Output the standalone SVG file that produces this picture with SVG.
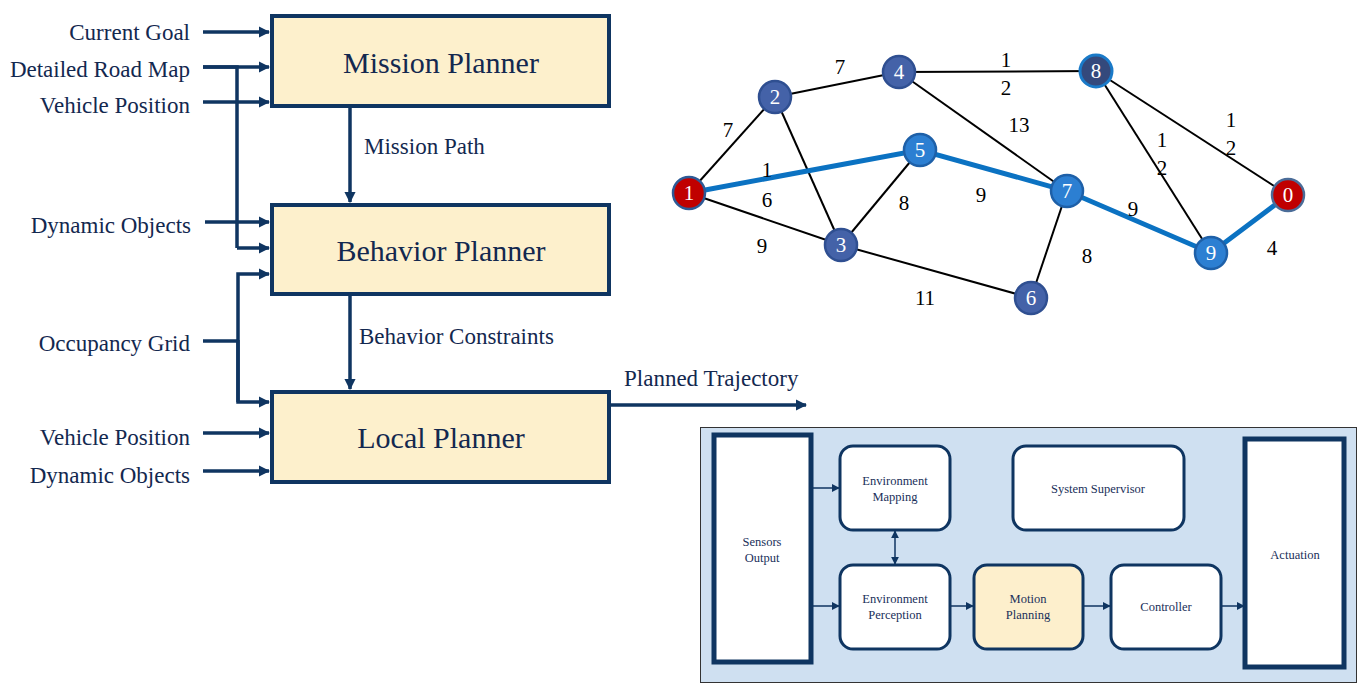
<svg xmlns="http://www.w3.org/2000/svg" width="1366" height="691" viewBox="0 0 1366 691" font-family="Liberation Serif, serif">
<defs>
<marker id="ah" viewBox="0 0 10 10" refX="9" refY="5" markerWidth="3.2" markerHeight="3.2" orient="auto-start-reverse" markerUnits="strokeWidth"><path d="M0,0 L10,5 L0,10 z" fill="#0f3561"/></marker>
<marker id="ahs" viewBox="0 0 10 10" refX="9" refY="5" markerWidth="8" markerHeight="8" orient="auto-start-reverse" markerUnits="userSpaceOnUse"><path d="M0,0 L10,5 L0,10 z" fill="#0f3561"/></marker>
<style>
.pl{fill:#fdf0cc;stroke:#0f3561;stroke-width:4}
.pt{font-size:30px;fill:#13284f;text-anchor:middle}
.lb{font-size:23px;fill:#13284f}
.r{text-anchor:end}
.ln{fill:none;stroke:#0f3561;stroke-width:3.5}
.ar{fill:none;stroke:#0f3561;stroke-width:3.5;marker-end:url(#ah)}
.ge{stroke:#000;stroke-width:2;fill:none}
.gp{stroke:#0b72c2;stroke-width:5;fill:none}
.gn{font-size:21px;fill:#fff;text-anchor:middle}
.gl{font-size:21px;fill:#000;text-anchor:middle}
.bx{fill:#fff;stroke:#0f3561;stroke-width:3}
.bt{font-size:12.5px;fill:#1a2f5a;text-anchor:middle}
.sa{fill:none;stroke:#0f3561;stroke-width:1.5;marker-end:url(#ahs)}
</style>
</defs>
<rect width="1366" height="691" fill="#fff"/>

<g id="connectors">
<path class="ar" d="M203,32 H269"/>
<path class="ar" d="M203,67 H269"/>
<path class="ar" d="M203,102 H269"/>
<path class="ln" d="M203,67 H237 V248"/>
<path class="ar" d="M237,248 H269"/>
<path class="ar" d="M205,222 H269"/>
<path class="ln" d="M203,341 H238"/>
<path class="ar" d="M238,402 V274 H269"/>
<path class="ar" d="M238,340 V402 H269"/>
<path class="ar" d="M203,433 H269"/>
<path class="ar" d="M203,471 H269"/>
<path class="ar" d="M350,107 V202"/>
<path class="ar" d="M350,295 V389"/>
<path class="ar" d="M610,405 H806"/>
</g>
<g id="mission" font-family="Liberation Serif, serif"><rect class="pl" x="272" y="16" width="337" height="90"/><text class="pt" x="441" y="73" font-family="Liberation Serif, serif">Mission Planner</text></g>
<g id="behavior" font-family="Liberation Serif, serif"><rect class="pl" x="272" y="205" width="337" height="89"/><text class="pt" x="441" y="261" font-family="Liberation Serif, serif">Behavior Planner</text></g>
<g id="local" font-family="Liberation Serif, serif"><rect class="pl" x="272" y="392" width="337" height="90"/><text class="pt" x="441" y="448" font-family="Liberation Serif, serif">Local Planner</text></g>
<g id="labels" font-family="Liberation Serif, serif">
<text class="lb r" x="190" y="40" font-family="Liberation Serif, serif">Current Goal</text>
<text class="lb r" x="190" y="77" font-family="Liberation Serif, serif">Detailed Road Map</text>
<text class="lb r" x="190" y="113" font-family="Liberation Serif, serif">Vehicle Position</text>
<text class="lb r" x="191" y="233" font-family="Liberation Serif, serif">Dynamic Objects</text>
<text class="lb r" x="190" y="351" font-family="Liberation Serif, serif">Occupancy Grid</text>
<text class="lb r" x="190" y="445" font-family="Liberation Serif, serif">Vehicle Position</text>
<text class="lb r" x="190" y="483" font-family="Liberation Serif, serif">Dynamic Objects</text>
<text class="lb" x="364" y="154" font-family="Liberation Serif, serif">Mission Path</text>
<text class="lb" x="359" y="344" font-family="Liberation Serif, serif">Behavior Constraints</text>
<text class="lb" x="624" y="386" font-family="Liberation Serif, serif">Planned Trajectory</text>
</g>

<g id="graph-edges">
<path class="ge" d="M689,193 L775,97"/>
<path class="ge" d="M775,97 L899,72"/>
<path class="ge" d="M899,72 L1096,71"/>
<path class="ge" d="M899,72 L1067,191"/>
<path class="ge" d="M1096,71 L1288,195"/>
<path class="ge" d="M1096,71 L1211,253"/>
<path class="ge" d="M775,97 L841,245"/>
<path class="ge" d="M689,193 L841,245"/>
<path class="ge" d="M841,245 L920,150"/>
<path class="ge" d="M841,245 L1031,298"/>
<path class="ge" d="M1067,191 L1031,298"/>
<path class="gp" d="M689,193 L920,150 L1067,191 L1211,253 L1288,195"/>
</g>
<g id="graph-weights" font-family="Liberation Serif, serif">
<text class="gl" font-family="Liberation Serif, serif" x="840" y="74">7</text>
<text class="gl" font-family="Liberation Serif, serif" x="728" y="137">7</text>
<text class="gl" font-family="Liberation Serif, serif" x="1006" y="67">1</text>
<text class="gl" font-family="Liberation Serif, serif" x="1006" y="95">2</text>
<text class="gl" font-family="Liberation Serif, serif" x="1019" y="132">13</text>
<text class="gl" font-family="Liberation Serif, serif" x="767" y="177">1</text>
<text class="gl" font-family="Liberation Serif, serif" x="767" y="207">6</text>
<text class="gl" font-family="Liberation Serif, serif" x="904" y="210">8</text>
<text class="gl" font-family="Liberation Serif, serif" x="981" y="202">9</text>
<text class="gl" font-family="Liberation Serif, serif" x="762" y="253">9</text>
<text class="gl" font-family="Liberation Serif, serif" x="925" y="305">11</text>
<text class="gl" font-family="Liberation Serif, serif" x="1162" y="147">1</text>
<text class="gl" font-family="Liberation Serif, serif" x="1162" y="175">2</text>
<text class="gl" font-family="Liberation Serif, serif" x="1231" y="127">1</text>
<text class="gl" font-family="Liberation Serif, serif" x="1231" y="155">2</text>
<text class="gl" font-family="Liberation Serif, serif" x="1133" y="216">9</text>
<text class="gl" font-family="Liberation Serif, serif" x="1087" y="263">8</text>
<text class="gl" font-family="Liberation Serif, serif" x="1272" y="255">4</text>
</g>
<g id="n1" font-family="Liberation Serif, serif"><circle cx="689" cy="193" r="16" fill="#c00000" stroke="#2d5a96" stroke-width="2.5"/><text class="gn" font-family="Liberation Serif, serif" x="689" y="200">1</text></g>
<g id="n2" font-family="Liberation Serif, serif"><circle cx="775" cy="97" r="16" fill="#4462a8" stroke="#2f4f91" stroke-width="2.5"/><text class="gn" font-family="Liberation Serif, serif" x="775" y="104">2</text></g>
<g id="n4" font-family="Liberation Serif, serif"><circle cx="899" cy="72" r="16" fill="#4462a8" stroke="#2f4f91" stroke-width="2.5"/><text class="gn" font-family="Liberation Serif, serif" x="899" y="79">4</text></g>
<g id="n8" font-family="Liberation Serif, serif"><circle cx="1096" cy="71" r="16" fill="#34497c" stroke="#1a7ac8" stroke-width="3"/><text class="gn" font-family="Liberation Serif, serif" x="1096" y="78">8</text></g>
<g id="n5" font-family="Liberation Serif, serif"><circle cx="920" cy="150" r="16" fill="#2c7fd2" stroke="#1e60a8" stroke-width="2.5"/><text class="gn" font-family="Liberation Serif, serif" x="920" y="157">5</text></g>
<g id="n7" font-family="Liberation Serif, serif"><circle cx="1067" cy="191" r="16" fill="#2c7fd2" stroke="#1e60a8" stroke-width="2.5"/><text class="gn" font-family="Liberation Serif, serif" x="1067" y="198">7</text></g>
<g id="n3" font-family="Liberation Serif, serif"><circle cx="841" cy="245" r="16" fill="#4462a8" stroke="#2f4f91" stroke-width="2.5"/><text class="gn" font-family="Liberation Serif, serif" x="841" y="252">3</text></g>
<g id="n6" font-family="Liberation Serif, serif"><circle cx="1031" cy="298" r="16" fill="#4462a8" stroke="#2f4f91" stroke-width="2.5"/><text class="gn" font-family="Liberation Serif, serif" x="1031" y="305">6</text></g>
<g id="n9" font-family="Liberation Serif, serif"><circle cx="1211" cy="253" r="16" fill="#2c7fd2" stroke="#1e60a8" stroke-width="2.5"/><text class="gn" font-family="Liberation Serif, serif" x="1211" y="260">9</text></g>
<g id="n0" font-family="Liberation Serif, serif"><circle cx="1288" cy="195" r="16" fill="#c00000" stroke="#4a6c98" stroke-width="2.5"/><text class="gn" font-family="Liberation Serif, serif" x="1288" y="202">0</text></g>

<g id="arch-bg"><rect x="700.5" y="427.5" width="656" height="255" fill="#cfe0f1" stroke="#333" stroke-width="1"/></g>
<g id="arch-connectors">
<path class="sa" d="M812,488 H839"/>
<path class="sa" d="M812,606 H839"/>
<path class="sa" d="M895,548 V531"/>
<path class="sa" d="M895,548 V564"/>
<path class="sa" d="M951,606 H973"/>
<path class="sa" d="M1084,606 H1110"/>
<path class="sa" d="M1222,606 H1244"/>
</g>
<g id="sensors" font-family="Liberation Serif, serif"><rect x="714" y="435" width="97" height="227" fill="#fff" stroke="#0f3561" stroke-width="5"/><text class="bt" font-family="Liberation Serif, serif" x="762" y="546">Sensors</text><text class="bt" font-family="Liberation Serif, serif" x="762" y="562">Output</text></g>
<g id="envmap" font-family="Liberation Serif, serif"><rect class="bx" x="840" y="446" width="110" height="84" rx="13"/><text class="bt" font-family="Liberation Serif, serif" x="895" y="485">Environment</text><text class="bt" font-family="Liberation Serif, serif" x="895" y="501">Mapping</text></g>
<g id="envper" font-family="Liberation Serif, serif"><rect class="bx" x="840" y="565" width="110" height="84" rx="13"/><text class="bt" font-family="Liberation Serif, serif" x="895" y="603">Environment</text><text class="bt" font-family="Liberation Serif, serif" x="895" y="619">Perception</text></g>
<g id="motion" font-family="Liberation Serif, serif"><rect x="974" y="565" width="109" height="84" rx="13" fill="#fdefcc" stroke="#0f3561" stroke-width="3"/><text class="bt" font-family="Liberation Serif, serif" x="1028" y="603">Motion</text><text class="bt" font-family="Liberation Serif, serif" x="1028" y="619">Planning</text></g>
<g id="controller" font-family="Liberation Serif, serif"><rect class="bx" x="1111" y="565" width="110" height="84" rx="13"/><text class="bt" font-family="Liberation Serif, serif" x="1166" y="611">Controller</text></g>
<g id="supervisor" font-family="Liberation Serif, serif"><rect class="bx" x="1013" y="446" width="171" height="84" rx="13"/><text class="bt" font-family="Liberation Serif, serif" x="1098" y="493">System Supervisor</text></g>
<g id="actuation" font-family="Liberation Serif, serif"><rect x="1245" y="439" width="99" height="228" fill="#fff" stroke="#0f3561" stroke-width="5"/><text class="bt" font-family="Liberation Serif, serif" x="1295" y="559">Actuation</text></g>
</svg>
